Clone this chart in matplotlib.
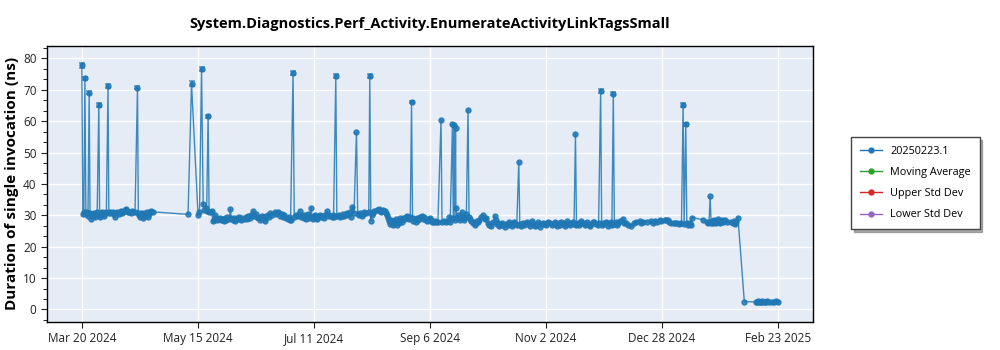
import datetime as dt
import numpy as np
import matplotlib
matplotlib.use('Agg')
import matplotlib.pyplot as plt
from matplotlib.lines import Line2D
from matplotlib.ticker import MultipleLocator

plt.rcParams['font.family'] = ['Open Sans', 'DejaVu Sans']

# ── DATA ─────────────────────────────────────────────────────────────────
START = dt.datetime(2024, 3, 20, 6)
LEGEND_NAMES = ['20250223.1', 'Moving Average', 'Upper Std Dev', 'Lower Std Dev']

# days after the first run (Mar 20 2024), duration (ns)
DAYS = [
    0, 0.5, 1, 1.5, 2, 2.5, 3, 3.6, 4, 4.5, 5, 5.5, 6, 6.5, 7, 7.5, 8.3, 8.7, 9, 9.5,
    10, 10.5, 11, 11.5, 12, 12.8, 13.2, 14, 14.5, 15, 15.5, 16, 16.5, 17, 18, 18.5, 19, 19.5,
    20, 21, 21.5, 22, 22.5, 23, 24, 24.5, 25, 26, 27.2, 27.6, 28, 28.5, 29, 29.5, 30, 30.5,
    31, 32, 32.5, 33, 33.5, 34, 34.8,
    51.9, 53.6, 56.8, 57.5, 58.5, 59.3, 59.8, 60.5, 61, 61.7, 62.2, 63, 63.5, 64, 64.5, 65,
    65.5, 66, 67, 67.5, 68, 69, 69.5, 70, 70.5, 71, 72, 72.6, 73, 74, 74.5, 75, 76, 76.5,
    77, 78, 78.5, 79, 80, 80.5, 81, 82, 82.5, 83.7, 84.2, 85, 85.5, 86, 87, 87.5, 88, 89,
    89.5, 90, 91, 91.5, 92, 93, 94.3, 95, 95.8, 96.5, 97, 98, 98.5, 99, 100, 100.5, 101,
    101.5, 102, 103.2, 103.8, 104.5, 105,
    105.5, 106.5, 107, 107.5, 108, 108.5, 109, 109.5, 110, 110.5, 111, 112, 112.5, 113,
    113.5, 114, 114.5, 115, 116, 116.5, 117, 118, 118.5, 119, 120, 120.5, 121, 122, 122.5,
    123, 124.1, 124.6, 125.5, 126, 127, 127.5, 128, 129, 129.5, 130, 131, 131.5, 132.2,
    133, 134.2, 134.8, 135.5, 136, 137, 137.5, 138, 139, 140.2, 140.7, 141.2, 141.8, 142.5,
    143, 144, 145, 145.5, 146, 146.5, 147, 148, 148.5,
    149, 149.5, 150, 150.5, 151, 151.5, 152, 152.5, 153, 153.5, 154, 154.5, 155, 155.5,
    156, 156.5, 157, 158, 158.5, 159, 159.5, 160, 160.5, 161.1, 161.6, 162, 163, 163.5,
    164, 164.5, 165, 166, 166.5, 167, 168, 168.5, 169, 170, 170.5, 171, 172, 172.5, 173,
    174, 175.5, 176, 177, 178, 179, 179.5, 180, 181.1, 181.5, 181.9, 182.3, 182.6, 182.8,
    183.3, 184, 184.5, 185, 185.7, 186.2, 186.7, 187.3, 187.9, 188.7, 189.2, 189.8, 190.3,
    191, 191.5, 192, 192.5, 193, 193.5, 194.3, 195, 196, 197, 197.7, 198.5, 199, 200,
    201, 201.8, 202.5, 203, 203.5, 204,
    204.5, 205, 205.5, 206, 207, 207.5, 208, 208.5, 209, 210, 210.5, 211, 212, 212.5,
    213.5, 214, 214.5, 215, 215.5, 216, 217, 217.5, 218, 219, 219.5, 220, 221, 221.5, 222,
    223, 223.5, 224, 225, 225.5, 226, 227, 227.5, 228, 229, 229.5, 230, 231, 231.5, 232,
    233, 233.5, 234, 235, 236, 236.5, 237, 238, 238.5, 239, 239.8, 240.5, 241.2, 241.7,
    242.2, 243, 243.5, 244, 245, 246, 246.5, 247, 248, 248.5, 249, 250, 250.5, 251, 252,
    252.5, 253.5, 254, 254.5, 255, 256, 256.5, 257, 258, 258.5, 259, 259.7, 260.2, 261,
    261.5, 262, 263, 264.4, 265, 266, 267, 268.5, 270, 271, 272.6, 273.2, 274.1, 276,
    278.3, 279, 280, 281, 282.4, 283.2, 284.8, 285.5, 286.3, 287, 288, 289.2, 290, 290.7,
    292, 293, 293.8, 294.3, 295.1, 295.6, 296.3, 297, 297.5, 297.9,
    303.5, 305.5, 306, 306.5, 307, 307.5, 308, 308.5, 309, 309.5, 310, 310.5, 311, 311.5,
    312, 312.5, 313, 313.5, 314, 314.5, 315, 317.4, 318, 318.5, 319.3, 319.8, 320.6,
    323.7, 329.3, 330, 330.5, 331, 331.5, 332, 332.5, 333, 334, 334.5, 335, 336, 337,
    338, 339, 340.25,
]
VALUES = [
    77.8, 30.5, 30.9, 73.6, 30.3, 31.0, 29.8, 69.1, 30.6, 28.8, 30.4, 29.9, 30.8, 29.5, 30.3, 30.9, 65.2, 30.2, 29.6, 30.7,
    31.0, 30.4, 29.9, 30.8, 31.1, 71.2, 30.6, 31.0, 30.7, 31.2, 30.5, 29.4, 30.6, 31.0, 30.4, 30.9, 31.3, 30.8,
    31.1, 31.6, 32.1, 31.4, 30.9, 31.2, 30.8, 31.3, 30.9, 31.1, 70.6, 30.7, 30.2, 29.6, 30.8, 30.1, 29.3, 30.6,
    29.8, 30.9, 29.5, 30.4, 31.2, 31.4, 31.1,
    30.3, 72.0, 30.0, 31.0, 76.6, 33.5, 31.8, 32.2, 31.4, 61.6, 31.2, 30.9, 31.3, 28.1, 28.6, 30.2,
    29.0, 28.4, 28.8, 29.3, 28.5, 28.9, 28.2, 29.1, 28.6, 29.4, 28.8, 32.0, 29.3, 28.5, 29.0, 28.2, 29.2, 28.7,
    29.5, 28.4, 29.0, 28.7, 29.6, 28.9, 29.8, 29.2, 30.0, 31.3, 29.8, 30.3, 29.4, 29.1, 28.5, 29.6, 29.9, 28.8,
    28.3, 29.7, 30.2, 29.5, 30.6, 30.0, 31.1, 30.4, 31.2, 30.6, 29.8, 30.3, 29.6, 30.0, 29.2, 28.9, 29.5,
    28.6, 28.4, 75.3, 29.6, 30.1, 29.8,
    30.0, 31.3, 29.5, 30.2, 29.8, 29.2, 30.1, 28.9, 29.6, 30.3, 29.0, 32.4, 29.4, 28.8,
    29.7, 30.2, 29.3, 28.9, 29.8, 30.0, 29.4, 29.9, 29.1, 30.2, 31.3, 29.7, 30.0, 29.5, 30.1,
    29.6, 74.4, 29.8, 30.0, 29.5, 29.9, 30.3, 29.7, 30.5, 30.8, 30.2, 31.0, 29.6, 32.7,
    30.6, 56.5, 30.4, 30.1, 30.6, 29.8, 30.4, 30.9, 30.7, 31.0, 74.4, 28.3, 30.2, 30.6,
    31.3, 31.6, 31.9, 31.5, 30.9, 31.3, 31.8, 31.4, 30.8,
    30.1, 29.0, 28.1, 27.2, 28.5, 27.6, 26.9, 28.2, 27.5, 28.8, 27.0, 28.3, 27.6, 29.0,
    28.4, 27.8, 29.3, 28.7, 29.6, 29.9, 29.2, 28.8, 29.5, 66.1, 29.0, 28.3, 28.9, 27.9,
    29.2, 28.6, 29.4, 29.7, 28.8, 29.5, 28.6, 28.1, 28.9, 29.3, 28.4, 28.0, 27.9, 28.3, 27.8,
    28.0, 60.3, 27.9, 28.2, 27.8, 28.1, 29.5, 27.9, 59.1, 29.0, 58.8, 28.6, 57.9, 32.4,
    29.2, 30.0, 29.1, 28.4, 30.9, 29.3, 28.6, 29.6, 30.5, 63.5, 29.4, 28.7, 28.2,
    27.4, 28.0, 27.0, 27.6, 28.3, 27.9, 28.6, 29.4, 30.2, 28.8, 29.2, 27.5, 27.0, 26.7,
    27.9, 29.7, 28.4, 27.2, 27.6, 26.6,
    27.3, 26.8, 27.6, 27.0, 26.4, 27.2, 26.9, 27.8, 27.1, 26.6, 27.4, 27.9, 27.2, 26.8,
    46.9, 27.3, 26.5, 27.1, 27.6, 26.9, 27.4, 28.0, 27.2, 26.7, 27.5, 28.1, 27.3, 26.6, 27.0,
    27.8, 27.2, 26.4, 27.1, 27.7, 27.3, 26.8, 27.5, 28.0, 27.4, 26.9, 27.3, 27.9, 27.2, 26.5,
    27.6, 27.0, 27.9, 27.4, 26.7, 27.3, 28.1, 27.5, 26.9, 27.4, 28.0, 27.2, 55.8, 27.0,
    27.6, 26.8, 27.4, 28.2, 27.5, 26.9, 27.3, 27.8, 27.0, 26.5, 27.2, 27.9, 28.0, 27.3, 26.8,
    27.5, 69.6, 26.9, 27.6, 27.1, 28.0, 27.4, 26.7, 27.2, 27.9, 27.0, 68.8, 27.3, 27.8,
    27.0, 27.6, 28.2, 28.9, 27.7, 27.4, 27.0, 26.5, 27.6, 28.0, 28.3, 27.5, 28.0, 27.8,
    28.1, 27.6, 28.3, 27.9, 28.6, 28.3, 28.6, 28.4, 28.5, 27.8, 27.5, 27.7, 27.4, 27.6,
    27.3, 27.5, 65.2, 27.2, 59.0, 27.4, 27.0, 27.6, 26.8, 29.3,
    28.6, 27.8, 27.4, 28.0, 36.1, 27.5, 28.3, 27.6, 28.6, 27.9, 27.4, 28.2, 28.7, 28.0,
    27.5, 28.1, 28.5, 27.9, 28.2, 28.6, 28.0, 28.0, 27.6, 28.1, 27.3, 27.9, 29.3,
    2.5, 2.4, 2.5, 2.6, 2.5, 2.4, 2.5, 2.6, 2.5, 2.4, 2.5, 2.6, 2.5, 2.4,
    2.5, 2.6, 2.5,
]

# error bars visible on the spikes
ERR_DAYS = [0, 1.5, 3.6, 8.3, 12.8, 27.2, 53.6, 58.5, 61.7, 103.2, 124.1, 140.7,
            161.1, 253.5, 259.7, 293.8, 295.1]
ERR_VALUES = [77.8, 73.6, 69.1, 65.2, 71.2, 70.6, 72.0, 76.6, 61.6, 75.3, 74.4, 74.4,
              66.1, 69.6, 68.8, 65.2, 59.0]
ERR_SIZE = [0.7, 0.6, 0.5, 0.6, 0.6, 0.5, 0.7, 0.7, 0.5, 0.6, 0.6, 0.7,
            0.4, 0.6, 0.5, 0.6, 0.5]

# ── PLOT ──────────────────────────────────────────────────────────────────
BLUE = '#1f77b4'
GREEN = '#2ca02c'
RED = '#d62728'
PURPLE = '#9467bd'
PANEL = '#e5ecf6'

fig = plt.figure(figsize=(10, 3.5), dpi=100)
ax = fig.add_axes([0.047, 0.08, 0.766, 0.789])
ax.set_facecolor(PANEL)

ax.plot(DAYS, VALUES, color=BLUE, linewidth=1.0, alpha=0.85,
        marker='o', markersize=3.6, markerfacecolor=BLUE,
        markeredgecolor=BLUE, zorder=3)
ax.errorbar(ERR_DAYS, ERR_VALUES, yerr=ERR_SIZE, fmt='none', ecolor=BLUE,
            elinewidth=1.6, capsize=2.5, capthick=1.2, alpha=0.7, zorder=4)

span = DAYS[-1] - DAYS[0]
ax.set_xlim(DAYS[0] - 0.05 * span, DAYS[-1] + 0.05 * span)
ax.set_ylim(-4, 84)

# seven evenly spaced date ticks across the data range
tick_pos = np.linspace(DAYS[0], DAYS[-1], 7)
tick_lab = []
for t in tick_pos:
    d = START + dt.timedelta(days=float(t))
    tick_lab.append(f'{d:%b} {d.day} {d.year}')
ax.set_xticks(tick_pos)
ax.set_xticklabels(tick_lab)

ax.yaxis.set_major_locator(MultipleLocator(10))
ax.yaxis.set_minor_locator(MultipleLocator(10 / 3))
ax.tick_params(axis='both', labelsize=8.5, colors='#222222', length=4, width=0.8)
ax.tick_params(axis='y', which='minor', length=3, width=0.6)

ax.grid(True, color='white', linewidth=1.0)
ax.set_axisbelow(True)
for sp in ax.spines.values():
    sp.set_edgecolor('black')
    sp.set_linewidth(1.0)

ax.set_title('System.Diagnostics.Perf_Activity.EnumerateActivityLinkTagsSmall',
             fontsize=10.5, fontweight='bold', pad=13)
ax.set_ylabel('Duration of single invocation (ns)', fontsize=11,
              fontweight='bold', labelpad=3)

handles = [
    Line2D([], [], color=BLUE, marker='o', markersize=3.5, linewidth=1.0),
    Line2D([], [], color=GREEN, marker='o', markersize=3.5, linewidth=1.0),
    Line2D([], [], color=RED, marker='o', markersize=3.5, linewidth=1.0),
    Line2D([], [], color=PURPLE, marker='o', markersize=3.5, linewidth=1.0),
]
leg = fig.legend(handles, LEGEND_NAMES, loc='center left',
                 bbox_to_anchor=(0.846, 0.477), fontsize=7.8, frameon=True,
                 fancybox=False, shadow={'color': '#777777', 'alpha': 0.6},
                 framealpha=1.0, edgecolor='#444444', handlelength=2.0,
                 labelspacing=0.95, borderpad=0.8)
leg.get_frame().set_linewidth(1.0)

fig.savefig('out.png', dpi=100, facecolor='white')
